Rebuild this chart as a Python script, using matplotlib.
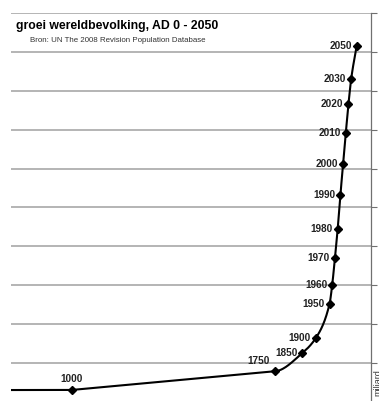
import numpy as np
import matplotlib
matplotlib.use("Agg")
import matplotlib.pyplot as plt

years = [0, 1000, 1750, 1850, 1900, 1950, 1960, 1970, 1980, 1990, 2000, 2010, 2020, 2030, 2050]
population = [0.30, 0.31, 0.79, 1.26, 1.65, 2.52, 3.02, 3.70, 4.44, 5.31, 6.12, 6.91, 7.67, 8.31, 9.15]
labels = [str(y) for y in years]
yticks = list(range(0, 11))

plt.rcParams['font.family'] = ['Liberation Sans', 'DejaVu Sans']

W, H = 379, 401
fig = plt.figure(figsize=(W / 100, H / 100), dpi=100)
fig.patch.set_facecolor('white')

# axes in pixel coords
x0, x1 = 11, 371
ytop, ybot = 13, 402
ax = fig.add_axes([x0 / W, (H - ybot) / H, (x1 - x0) / W, (ybot - ytop) / H])
ax.set_xlim(775, 2103)
ax.set_ylim(0, 10)

for s in ['left', 'top', 'bottom']:
    ax.spines[s].set_visible(False)
ax.spines['right'].set_color('#707070')
ax.spines['right'].set_linewidth(0.9)
ax.yaxis.tick_right()
ax.set_yticks(yticks)
ax.set_yticklabels([str(t) for t in yticks], fontsize=7, color='#333333')
ax.tick_params(axis='y', direction='out', length=4, width=0.8, color='#707070', pad=2)
ax.set_xticks([])
ax.grid(axis='y', color='#a8a8a8', linewidth=1.2)
ax.set_axisbelow(True)


# smoothed connecting curve (monotone cubic Hermite) through the data points
def smooth_curve(x, y, n=40):
    x = np.asarray(x, float)
    y = np.asarray(y, float)
    h = np.diff(x)
    d = np.diff(y) / h
    m = np.zeros_like(y)
    m[0], m[-1] = d[0], d[-1]
    for k in range(1, len(x) - 1):
        if d[k - 1] * d[k] > 0:
            w1 = 2 * h[k] + h[k - 1]
            w2 = h[k] + 2 * h[k - 1]
            m[k] = (w1 + w2) / (w1 / d[k - 1] + w2 / d[k])
    ms = m[:-1].copy()
    me = m[1:].copy()
    # the long early stretches are straight in the original chart
    ms[0] = me[0] = d[0]
    ms[1] = me[1] = d[1]
    ms[2] = d[1]
    xs, ys = [], []
    for k in range(len(x) - 1):
        t = np.linspace(0, 1, n)
        h00 = 2 * t ** 3 - 3 * t ** 2 + 1
        h10 = t ** 3 - 2 * t ** 2 + t
        h01 = -2 * t ** 3 + 3 * t ** 2
        h11 = t ** 3 - t ** 2
        xs.append(x[k] + t * h[k])
        ys.append(h00 * y[k] + h10 * h[k] * ms[k] + h01 * y[k + 1] + h11 * h[k] * me[k])
    return np.concatenate(xs), np.concatenate(ys)


cx, cy = smooth_curve(years, population)
ax.plot(cx, cy, color='black', linewidth=1.5, zorder=3)
ax.plot(years, population, linestyle='none', marker='D', markersize=4.5,
        color='black', zorder=4)

offsets = {
    1000: (0, 6, 'center', 'bottom'),
    1750: (-6, 5, 'right', 'bottom'),
}
for yr, pop, lab in zip(years, population, labels):
    dx, dy, ha, va = offsets.get(yr, (-5, 0, 'right', 'center'))
    ax.annotate(lab, (yr, pop), xytext=(dx, dy), textcoords='offset pixels',
                ha=ha, va=va, fontsize=7.2, fontweight='bold', color='#222222')

fig.text(16 / W, 1 - 26 / H, 'groei wereldbevolking, AD 0 - 2050', fontsize=8.8,
         fontweight='bold', ha='left', va='center', color='black')
fig.text(30 / W, 1 - 41 / H, 'Bron: UN The 2008 Revision Population Database', fontsize=5.7,
         ha='left', va='center', color='#333333')
fig.text(373 / W, 1 - 383 / H, 'miljard', rotation=90, fontsize=6.5, ha='left', va='center',
         color='#333333')

fig.savefig('out.png', dpi=100, facecolor='white')
